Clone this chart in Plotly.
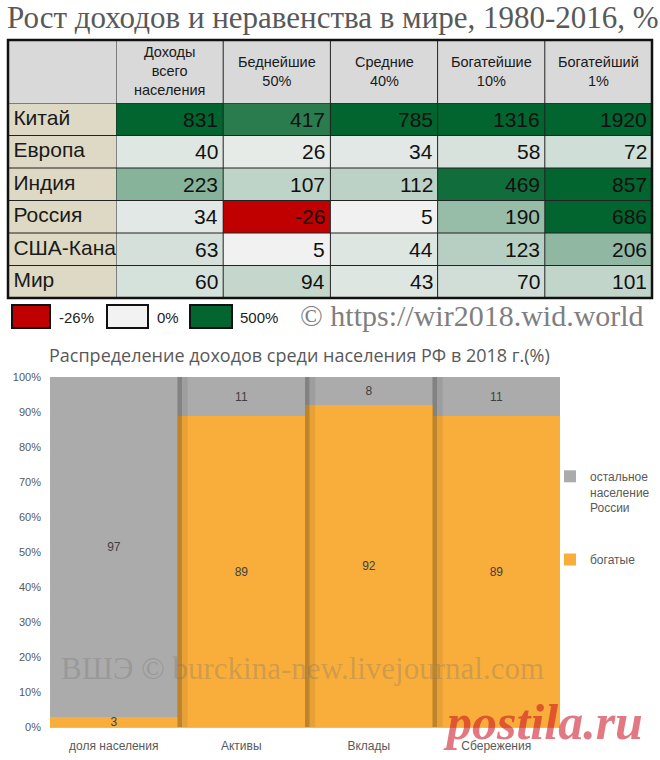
import plotly.graph_objects as go
from plotly.colors import sample_colorscale

# top table: income growth 1980-2016, %
regions = ["Китай", "Европа", "Индия", "Россия", "США-Канада", "Мир"]
groups = ["Доходы<br>всего<br>населения", "Беднейшие<br>50%", "Средние<br>40%",
          "Богатейшие<br>10%", "Богатейший<br>1%"]
growth = [
    [831, 417, 785, 1316, 1920],
    [40, 26, 34, 58, 72],
    [223, 107, 112, 469, 857],
    [34, -26, 5, 190, 686],
    [63, 5, 44, 123, 206],
    [60, 94, 43, 70, 101],
]
scale_marks = [-26, 0, 500]

# bottom chart: distribution in Russia, 2018
bar_cats = ["доля населения", "Активы", "Вклады", "Сбережения"]
rich = [3, 89, 92, 89]
rest = [97, 11, 8, 11]

W, H = 660, 760
def px(x): return x / W
def py(y): return 1 - y / H

lo, hi = scale_marks[0], scale_marks[-1]
cscale = [[0, "#C00000"], [(0 - lo) / (hi - lo), "#F2F2F2"], [1, "#02642F"]]
sans = "Liberation Sans, Arial, sans-serif"
serif = "Liberation Serif, Times New Roman, serif"

fig = go.Figure()

fig.add_trace(go.Heatmap(z=growth, x=groups, y=regions, xaxis="x2", yaxis="y2",
                         colorscale=cscale, zmin=lo, zmax=hi, showscale=False,
                         hoverinfo="skip"))
fig.add_trace(go.Scatter(x=[0.05] * len(regions), y=regions, text=regions, mode="text",
                         textposition="middle right", xaxis="x3", yaxis="y3",
                         textfont=dict(family=sans, size=21, color="#1a1a1a"),
                         cliponaxis=True, showlegend=False, hoverinfo="skip"))

fig.add_trace(go.Bar(x=bar_cats, y=rich, name="богатые", legend="legend2",
                     marker=dict(color="#F9AE3B", line=dict(width=0)),
                     text=rich, textposition="inside", insidetextanchor="middle",
                     textangle=0, textfont=dict(color="#404040", size=12, family=sans)))
fig.add_trace(go.Bar(x=bar_cats, y=rest, name="остальное<br>население<br>России",
                     legend="legend",
                     marker=dict(color="#ABABAB", line=dict(width=0)),
                     text=rest, textposition="inside", insidetextanchor="middle",
                     textangle=0, textfont=dict(color="#404040", size=12, family=sans)))

shapes = []
annos = []

# table backgrounds, grid, border
shapes.append(dict(type="rect", xref="paper", yref="paper", x0=px(8), x1=px(652),
                   y0=py(103), y1=py(40), fillcolor="#D9D9D9", line_width=0, layer="below"))
shapes.append(dict(type="rect", xref="x3 domain", yref="y3 domain", x0=0, x1=1, y0=0, y1=1,
                   fillcolor="#DDD9C4", line_width=0, layer="below"))
for k in range(len(groups) + 1):
    shapes.append(dict(type="line", xref="x2", yref="paper", x0=k - 0.5, x1=k - 0.5,
                       y0=py(298), y1=py(40), line=dict(color="#222", width=1)))
for k in range(len(regions) + 1):
    shapes.append(dict(type="line", xref="paper", yref="y2", x0=px(8), x1=px(652),
                       y0=k - 0.5, y1=k - 0.5, line=dict(color="#222", width=1)))
shapes.append(dict(type="rect", xref="paper", yref="paper", x0=px(8), x1=px(652),
                   y0=py(298), y1=py(40), line=dict(color="#111", width=2.5)))

for g in groups:
    annos.append(dict(x=g, xref="x2", y=py(71), yref="paper", text=g, showarrow=False,
                      font=dict(family=sans, size=14.5, color="#1a1a1a"), yanchor="middle"))
for i, r in enumerate(regions):
    for j, g in enumerate(groups):
        annos.append(dict(x=j + 0.5, xref="x2", y=r, yref="y2", text=str(growth[i][j]),
                          xanchor="right", yanchor="middle", xshift=-3, showarrow=False,
                          font=dict(family=sans, size=21, color="#111")))

# colour legend under the table
box_x = [(12, 50), (107, 148), (190, 232)]
lab_x = [57, 155, 238]
box_cols = sample_colorscale(cscale, [(v - lo) / (hi - lo) for v in scale_marks])
for v, (x0, x1), lx, c in zip(scale_marks, box_x, lab_x, box_cols):
    shapes.append(dict(type="rect", xref="paper", yref="paper", x0=px(x0), x1=px(x1),
                       y0=py(328), y1=py(305), fillcolor=c, line=dict(color="#111", width=2)))
    annos.append(dict(x=px(lx), y=py(317), xref="paper", yref="paper", text=f"{v}%",
                      xanchor="left", yanchor="middle", showarrow=False,
                      font=dict(family=sans, size=15, color="#222")))
annos.append(dict(x=px(646), y=py(316), xref="paper", yref="paper",
                  text="© https://wir2018.wid.world", xanchor="right", yanchor="middle",
                  showarrow=False, font=dict(family=serif, size=30, color="#7F7F7F")))

annos.append(dict(x=px(5), y=py(17), xref="paper", yref="paper",
                  text="Рост доходов и неравенства в мире, 1980-2016, %", xanchor="left",
                  yanchor="middle", showarrow=False,
                  font=dict(family=serif, size=31, color="#595959")))
annos.append(dict(x=px(47), y=py(355), xref="paper", yref="paper",
                  text="Распределение доходов среди населения РФ в 2018 г.(%)", xanchor="left",
                  yanchor="middle", showarrow=False,
                  font=dict(family="Open Sans, sans-serif", size=18, color="#595959")))

# bar edge shadows
for k in range(1, len(bar_cats)):
    shapes.append(dict(type="rect", xref="x", yref="y", x0=k - 0.5, x1=k - 0.5 + 0.035,
                       y0=0, y1=100, fillcolor="rgba(0,0,0,0.18)", line_width=0))
    shapes.append(dict(type="rect", xref="x", yref="y", x0=k - 0.5, x1=k - 0.5 + 0.08,
                       y0=0, y1=100, fillcolor="rgba(0,0,0,0.07)", line_width=0))

annos.append(dict(x=px(302), y=py(668), xref="paper", yref="paper",
                  text="ВШЭ © burckina-new.livejournal.com", xanchor="center", yanchor="middle",
                  showarrow=False,
                  font=dict(family=serif, size=31, color="rgba(110,110,110,0.3)")))
annos.append(dict(x=px(543), y=py(722), xref="paper", yref="paper", text="postila.ru",
                  xanchor="center", yanchor="middle", showarrow=False,
                  font=dict(family=serif, size=50, weight="bold", style="italic",
                            color="rgba(204,18,35,0.57)")))

fig.update_layout(
    width=W, height=H, margin=dict(l=0, r=0, t=0, b=0, autoexpand=False),
    paper_bgcolor="white", plot_bgcolor="white",
    barmode="stack", bargap=0,
    uniformtext=dict(minsize=12, mode="show"),
    shapes=shapes, annotations=annos,
    xaxis=dict(domain=[px(50), px(560)], showgrid=False, showline=True, linecolor="#BFBFBF",
               tickfont=dict(family=sans, size=12, color="#595959"), ticklabelstandoff=8,
               fixedrange=True),
    yaxis=dict(domain=[py(727), py(377)], range=[0, 100], dtick=10, ticksuffix="%",
               showgrid=True, gridcolor="rgba(140,140,140,0.45)", griddash="dash",
               layer="above traces", zeroline=False,
               tickfont=dict(family=sans, size=11, color="#595959"), ticklabelstandoff=8),
    xaxis2=dict(domain=[px(116), px(652)], range=[-0.5, len(groups) - 0.5], visible=False),
    yaxis2=dict(domain=[py(298), py(103)], range=[len(regions) - 0.5, -0.5], visible=False,
                anchor="x2"),
    xaxis3=dict(domain=[px(8), px(116)], range=[0, 1], visible=False),
    yaxis3=dict(domain=[py(298), py(103)], range=[len(regions) - 0.5, -0.5], visible=False,
                anchor="x3"),
    legend=dict(x=px(550), y=py(462), xanchor="left", yanchor="top", valign="top",
                font=dict(family=sans, size=12, color="#595959"), bgcolor="rgba(0,0,0,0)"),
    legend2=dict(x=px(550), y=py(545), xanchor="left", yanchor="top",
                 font=dict(family=sans, size=12, color="#595959"), bgcolor="rgba(0,0,0,0)"),
)

fig.write_html("out.html", config={"displayModeBar": False},
               post_script="document.body.style.margin='0';")
